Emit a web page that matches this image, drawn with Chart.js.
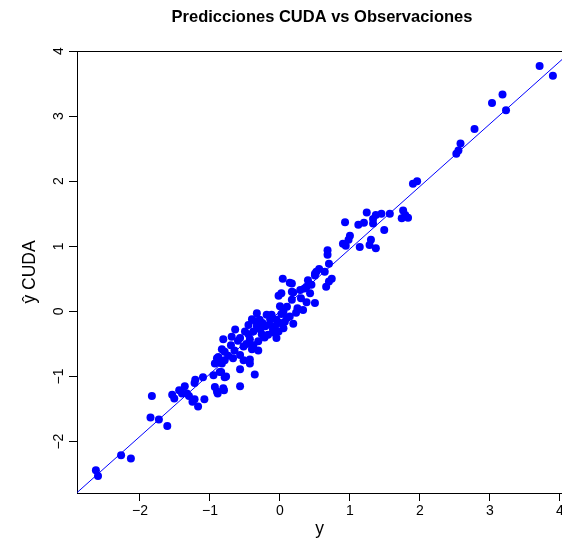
<!DOCTYPE html>
<html>
<head>
<meta charset="utf-8">
<script src="https://cdn.jsdelivr.net/npm/chart.js@4.4.1/dist/chart.umd.min.js"></script>
<style>
  html, body { margin: 0; padding: 0; background: #ffffff; }
  canvas { display: block; }
</style>
</head>
<body>
<canvas id="chart" width="562" height="544"></canvas>
<script>
// Observed values (y) and CUDA predictions (ŷ)
const yObs = [
  3.71, 3.90, 3.18, 3.03, 3.23, 2.78, 2.58, 2.55, 2.52, 1.96, 1.90,
  1.24, 1.37, 1.45, 1.57, 1.76, 1.79, 1.74, 1.83, 1.33, 0.93, 1.20, 1.12, 1.33, 1.49,
  1.00, 0.98, 0.90, 0.94, 1.30, 1.28, 1.14, 1.37, 0.68, 0.68, 0.70, 0.56, 0.52, 0.64,
  0.50, 0.74, 0.70, 0.66, 0.40, 0.45, 0.38, 0.17, 0.29, 0.43, 0.19,
  0.50, 0.38, 0.50, 0.33,
  0.04, 0.14, 0.17, 0.02, -0.02, 0.17, 0.00, 0.10, 0.23, -0.33, -0.19, 0.02, 0.14,
  -0.40, -0.29, -0.14, -0.05, 0.07, 0.19, -0.45, -0.33, -0.21, -0.07, 0.05,
  -0.50, -0.64, -0.38, -0.26, -0.17, -0.02, -0.69, -0.81, -0.57, -0.43, -0.05, -0.31,
  -0.52, -0.83, -0.40, -0.79, -0.31, -0.57, -0.90, -0.79, -0.67, -0.52, -0.43,
  -0.93, -0.83, -0.43, -0.86, -0.95, -0.57, -0.36, -0.79, -1.10, -1.21, -0.93, -0.81, -0.57,
  -0.88, -0.84, -0.77, -1.22, -1.36, -1.44, -1.54, -1.51, -1.40, -1.33, -1.30, -1.25,
  -1.22, -1.17, -1.08, -0.90, -0.89, -0.80, -1.83, -1.85, -1.73, -1.61,
  -2.27, -2.13, -2.63, -2.60,
  -0.25, -0.10, -0.35, -0.15, 0.00, -0.28, -0.12, 0.05, -0.22, -0.45, -0.60, -0.65,
  -0.70, 0.30, 0.35, 0.25, -0.48, -0.38, -0.88, -0.74, 0.10, -0.08
];
const yHatCuda = [
  3.77, 3.62, 3.33, 3.20, 3.09, 2.80, 2.58, 2.47, 2.42, 2.00, 1.96,
  1.52, 1.48, 1.50, 1.50, 1.55, 1.48, 1.43, 1.44, 1.42, 1.37, 1.36, 1.33, 1.35, 1.25,
  1.16, 1.10, 1.04, 1.01, 1.10, 1.02, 0.99, 0.97, 0.94, 0.87, 0.73, 0.65, 0.61, 0.61,
  0.55, 0.50, 0.46, 0.38, 0.48, 0.41, 0.38, 0.43, 0.33, 0.28, 0.29,
  0.58, 0.14, 0.13, 0.02,
  0.50, 0.44, 0.30, 0.28, 0.24, 0.18, 0.08, 0.07, -0.02, -0.03, -0.05, -0.04, -0.08,
  -0.12, -0.13, -0.12, -0.13, -0.16, -0.19, -0.21, -0.23, -0.23, -0.23, -0.26,
  -0.31, -0.28, -0.31, -0.35, -0.36, -0.31, -0.39, -0.43, -0.41, -0.43, -0.41, -0.46,
  -0.54, -0.58, -0.58, -0.62, -0.60, -0.67, -0.72, -0.75, -0.72, -0.75, -0.74,
  -0.80, -0.80, -0.80, -0.93, -0.98, -0.89, -0.97, -1.01, -1.01, -1.05, -1.16, -1.18, -1.15,
  -0.78, -0.93, -1.00, -1.10, -1.15, -1.21, -1.28, -1.34, -1.26, -1.26, -1.30, -1.39,
  -1.35, -1.46, -1.35, -1.23, -1.26, -1.21, -1.30, -1.63, -1.66, -1.76,
  -2.21, -2.26, -2.44, -2.53,
  -0.18, -0.28, -0.15, -0.20, -0.18, -0.28, -0.05, 0.00, -0.40, -0.35, -0.45, -0.60,
  -0.52, 0.20, 0.35, 0.05, -0.50, -0.52, -0.70, -0.68, -0.10, -0.33
];

// Axis ranges and tick positions
const xRange = [-2.9, 4.03];
const yRange = [-2.79, 4.0];
const xTicks = [-2, -1, 0, 1, 2, 3, 4];
const yTicks = [-2, -1, 0, 1, 2, 3, 4];

// Fitted reference line ŷ = a + b·y
const fitIntercept = 0.0;
const fitSlope = 0.96;

const points = yObs.map((v, i) => ({ x: v, y: yHatCuda[i] }));
const fitLine = xRange.map(v => ({ x: v, y: fitIntercept + fitSlope * v }));

const FONT = "'Liberation Sans', Arial, Helvetica, sans-serif";
const fmt = v => (v < 0 ? '\u2212' + Math.abs(v) : String(v));

// Top frame edge and centred main title
const framePlugin = {
  id: 'frame',
  afterDraw(chart) {
    const { ctx, chartArea: a } = chart;
    ctx.save();
    ctx.strokeStyle = '#000000';
    ctx.lineWidth = 1;
    ctx.beginPath();
    ctx.moveTo(a.left, a.top + 0.5);
    ctx.lineTo(chart.width, a.top + 0.5);
    ctx.stroke();
    ctx.fillStyle = '#000000';
    ctx.font = "bold 16.5px " + FONT;
    ctx.textAlign = 'center';
    ctx.textBaseline = 'middle';
    ctx.fillText('Predicciones CUDA vs Observaciones', 322, 17);
    ctx.restore();
  }
};

new Chart(document.getElementById('chart'), {
  type: 'scatter',
  data: {
    datasets: [
      {
        type: 'line',
        data: fitLine,
        borderColor: '#0000FF',
        borderWidth: 1,
        pointRadius: 0,
        fill: false,
        order: 2
      },
      {
        data: points,
        backgroundColor: '#0000FF',
        borderWidth: 0,
        pointRadius: 4,
        pointHoverRadius: 4,
        order: 1
      }
    ]
  },
  options: {
    responsive: false,
    animation: false,
    events: [],
    layout: { autoPadding: false, padding: { top: 51, left: 0, right: 0, bottom: 0 } },
    plugins: {
      legend: { display: false },
      title: { display: false },
      tooltip: { enabled: false }
    },
    scales: {
      x: {
        type: 'linear',
        position: 'bottom',
        min: xRange[0],
        max: xRange[1],
        afterBuildTicks: s => { s.ticks = xTicks.map(v => ({ value: v })); },
        afterFit: s => { s.height = 51; s.paddingLeft = 0; s.paddingRight = 0; },
        grid: { drawOnChartArea: false, drawTicks: true, tickLength: 8, color: '#000000' },
        border: { display: true, color: '#000000', width: 1 },
        ticks: {
          autoSkip: false, maxRotation: 0, padding: 2, color: '#000000',
          font: { family: FONT, size: 14 },
          callback: v => fmt(v)
        },
        title: {
          display: true, text: 'y', color: '#000000',
          font: { family: FONT, size: 17.5 },
          padding: { top: 0, bottom: 4 }
        }
      },
      y: {
        type: 'linear',
        position: 'left',
        min: yRange[0],
        max: yRange[1],
        afterBuildTicks: s => { s.ticks = yTicks.map(v => ({ value: v })); },
        afterFit: s => { s.width = 77; s.paddingTop = 0; s.paddingBottom = 0; },
        grid: { drawOnChartArea: false, drawTicks: true, tickLength: 8, color: '#000000' },
        border: { display: true, color: '#000000', width: 1 },
        ticks: {
          autoSkip: false, minRotation: 90, maxRotation: 90, padding: 2,
          crossAlign: 'center', color: '#000000',
          font: { family: FONT, size: 14 },
          callback: v => fmt(v)
        },
        title: {
          display: true, text: 'ŷ CUDA', color: '#000000',
          font: { family: FONT, size: 17.5 },
          padding: { top: 20, bottom: 0 }
        }
      }
    }
  },
  plugins: [framePlugin]
});
</script>
</body>
</html>
